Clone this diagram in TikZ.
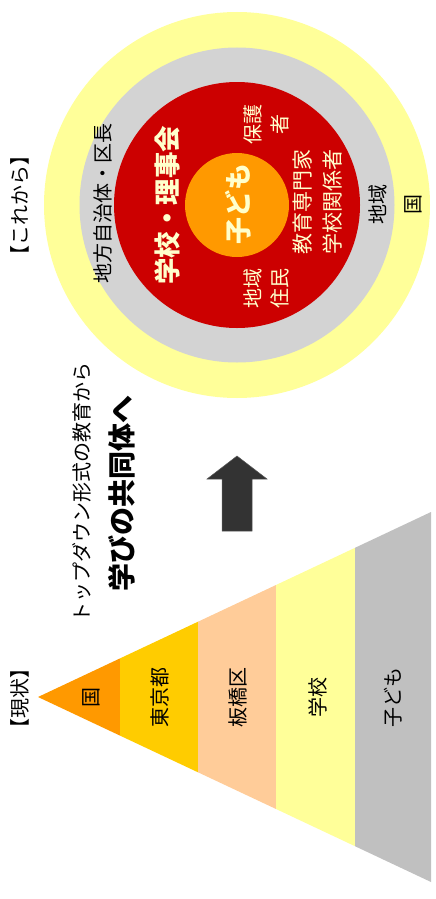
\documentclass[tikz,border=0pt]{standalone}
\usepackage{fontspec}
\setmainfont{Noto Sans CJK JP}
\definecolor{cOrange}{HTML}{FF9900}
\definecolor{cGold}{HTML}{FFCC00}
\definecolor{cPeach}{HTML}{FFCC99}
\definecolor{cLYellow}{HTML}{FFFF99}
\definecolor{cGray}{HTML}{C0C0C0}
\definecolor{cRing}{HTML}{D3D3D3}
\definecolor{cRed}{HTML}{CC0000}
\definecolor{cCream}{HTML}{FFFFCC}
\definecolor{cArrow}{HTML}{333333}
\begin{document}
\begin{tikzpicture}[x=1pt,y=-1pt,
  vtext/.style={rotate=90,inner sep=0pt,align=center,font=\fontsize{#1}{#1}\selectfont},
  vtext/.default=20,
  lbl/.style={vtext=#1,text=black},
  lbl/.default=20,
  wlbl/.style={vtext=#1,text=cCream},
  wlbl/.default=20]
\useasboundingbox (0,0) rectangle (436,899);
% ---- pyramid (apex (38,697), half-height = 0.4707 * (x-38)) ----
\fill[cOrange] (38,697) -- (120,658.4) -- (120,735.6) -- cycle;
\fill[cGold] (120,658.4) -- (198,621.7) -- (198,772.3) -- (120,735.6) -- cycle;
\fill[cPeach] (198,621.7) -- (276,585) -- (276,809) -- (198,772.3) -- cycle;
\fill[cLYellow] (276,585) -- (355,547.8) -- (355,846.2) -- (276,809) -- cycle;
\fill[cGray] (355,547.8) -- (431,512) -- (431,882) -- (355,846.2) -- cycle;
\node[lbl] (gen) at (20,698) {【現状】};
\node[lbl] (kuni) at (91,697) {国};
\node[lbl] (tokyo) at (160,697) {東京都};
\node[lbl] (itabashi) at (238,697) {板橋区};
\node[lbl] (gakko) at (318,697) {学校};
\node[lbl] (kodomo) at (393,697) {子ども};
% ---- arrow ----
\fill[cArrow,draw=gray!70!black,line width=0.5pt] (237,456) -- (267,479) -- (252,479) -- (252,531) -- (222,531) -- (222,479) -- (207,479) -- cycle;
\node[lbl] (top) at (82,492) {トップダウン形式の教育から};
\node[lbl=28,font=\fontsize{28}{28}\selectfont\bfseries] (manabi) at (122,493) {学びの共同体へ};
% ---- circles ----
\fill[cLYellow] (237,205) circle (193);
\fill[cRing] (237,205) circle (157.5);
\fill[cRed] (237,205) circle (123);
\fill[cOrange] (237,205) circle (52);
\node[lbl] (kore) at (20,205) {【これから】};
\node[lbl] (chiho) at (103,203) {地方自治体・区長};
\node[wlbl=26,font=\fontsize{26.5}{26.5}\selectfont\bfseries] (riji) at (167,205) {学校・理事会};
\node[wlbl=27,font=\fontsize{27}{27}\selectfont\bfseries] (kod2) at (238,204) {子ども};
\node[wlbl,font=\fontsize{20}{27}\selectfont] (hogo) at (266,124) {保護\\者};
\node[wlbl,font=\fontsize{21}{30}\selectfont] (kyoiku) at (318,202) {教育専門家\\学校関係者};
\node[wlbl,font=\fontsize{20}{27}\selectfont] (chiiki) at (266,288) {地域\\住民};
\node[lbl] (chiiki2) at (378,204) {地域};
\node[lbl] (kuni2) at (413,204) {国};
\end{tikzpicture}
\end{document}
